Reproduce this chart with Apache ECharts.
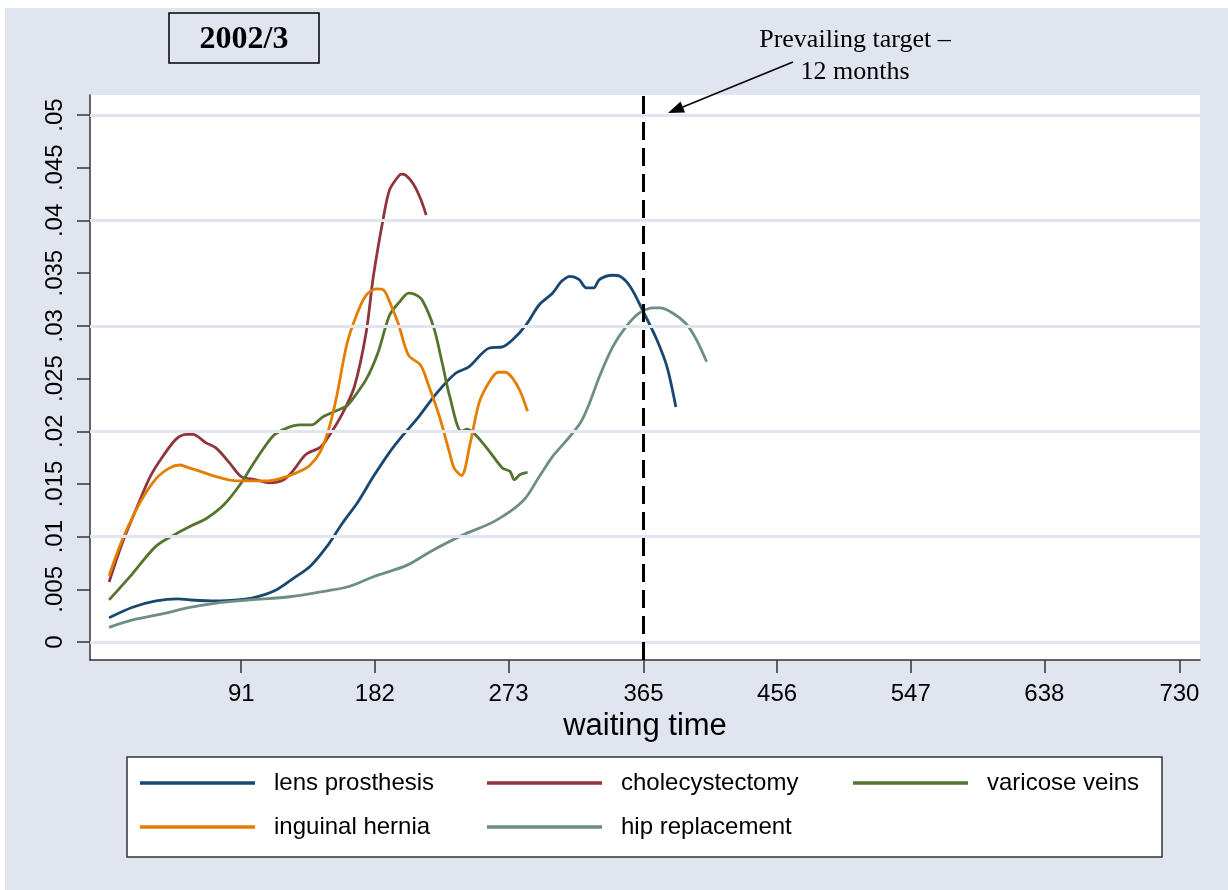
<!DOCTYPE html>
<html>
<head>
<meta charset="utf-8">
<script src="https://cdn.jsdelivr.net/npm/echarts@6/dist/echarts.min.js"></script>
<style>
  html, body { margin: 0; padding: 0; background: #fff; }
  #panel { position: absolute; left: 5px; top: 8px; width: 1223px; height: 882px; background: #e0e5ef; }
  #chart { position: absolute; left: 0; top: 0; width: 1228px; height: 890px; }
</style>
</head>
<body>
<div id="panel"></div>
<div id="chart"></div>
<script>
// tick positions
const xTicks = [91, 182, 273, 365, 456, 547, 638, 730];
const yTicks = [0, 0.005, 0.01, 0.015, 0.02, 0.025, 0.03, 0.035, 0.04, 0.045, 0.05];
const targetDay = 365;

// series (waiting time in days, density)
const lensDays = [1, 17, 33, 48, 56, 74, 88, 99, 114, 126, 138, 149, 160, 170, 181, 192, 201, 212, 224, 237, 246, 260, 269, 276, 285, 294, 303, 309, 315, 321, 326, 331, 335, 344, 349, 356, 365, 374, 381, 387];
const lensVals = [.0023, .0033, .0039, .0041, .0040, .0039, .0040, .0042, .0049, .0060, .0072, .0090, .0113, .0132, .0157, .0180, .0196, .0214, .0236, .0255, .0261, .0279, .0280, .0287, .0301, .0320, .0331, .0342, .0347, .0344, .0336, .0336, .0344, .0348, .0347, .0337, .0313, .0287, .0261, .0223];

const cholDays = [1, 10, 20, 29, 38, 47, 54, 58, 67, 74, 83, 91, 101, 110, 120, 126, 135, 145, 151, 160, 168, 176, 181, 188, 192, 197, 200, 203, 208, 213, 217];
const cholVals = [.0057, .0094, .0128, .0157, .0177, .0193, .0197, .0197, .0189, .0184, .0170, .0157, .0154, .0151, .0154, .0162, .0178, .0185, .0196, .0217, .0242, .0293, .0347, .0404, .0429, .0440, .0444, .0443, .0435, .0421, .0405];

const variDays = [1, 17, 33, 47, 58, 67, 79, 90, 101, 113, 122, 131, 139, 147, 163, 165, 176, 184, 192, 199, 205, 209, 214, 222, 228, 233, 241, 245, 251, 260, 269, 274, 277, 281, 286];
const variVals = [.0040, .0065, .0091, .0103, .0111, .0117, .0130, .0149, .0173, .0196, .0203, .0206, .0206, .0214, .0224, .0227, .0249, .0274, .0310, .0323, .0331, .0330, .0325, .0299, .0264, .0233, .0200, .0202, .0196, .0181, .0165, .0162, .0154, .0159, .0161];

const hernDays = [1, 10, 22, 33, 42, 49, 54, 63, 74, 88, 101, 110, 122, 131, 138, 145, 151, 156, 163, 170, 176, 183, 188, 192, 198, 205, 213, 219, 226, 233, 236, 241, 247, 253, 260, 266, 271, 276, 281, 286];
const hernVals = [.0063, .0097, .0132, .0155, .0165, .0168, .0166, .0162, .0157, .0153, .0153, .0153, .0157, .0162, .0168, .0181, .0204, .0233, .0283, .0312, .0329, .0335, .0334, .0323, .0302, .0272, .0263, .0242, .0214, .0179, .0165, .0158, .0189, .0227, .0247, .0256, .0256, .0250, .0238, .0219];

const hipDays = [1, 17, 38, 56, 74, 97, 124, 151, 165, 181, 204, 220, 241, 264, 283, 294, 303, 313, 322, 328, 335, 344, 353, 362, 372, 376, 385, 394, 401, 408];
const hipVals = [.0014, .0021, .0027, .0033, .0037, .0040, .0043, .0049, .0053, .0062, .0073, .0086, .0101, .0115, .0134, .0157, .0176, .0192, .0208, .0226, .0252, .0280, .0299, .0312, .0317, .0317, .0312, .0302, .0287, .0266];

const seriesNames = ["lens prosthesis", "cholecystectomy", "varicose veins", "inguinal hernia", "hip replacement"];
const seriesColors = ["#1a476f", "#90353b", "#55752f", "#e37e00", "#6e8e84"];
const seriesDays = [lensDays, cholDays, variDays, hernDays, hipDays];
const seriesVals = [lensVals, cholVals, variVals, hernVals, hipVals];

const SANS = '"Liberation Sans", Arial, sans-serif';
const SERIF = '"Liberation Serif", "Times New Roman", serif';

const zip = (xs, ys) => xs.map((x, i) => [x, ys[i]]);
const yLabel = (v) => (v === 0 ? "0" : String(+v.toFixed(3)).replace(/^0/, ""));

// legend layout: line start x per column, centre y per row
const legendCols = [140, 487, 853];
const legendRows = [783, 827];
const legendSlots = [[0, 0], [1, 0], [2, 0], [0, 1], [1, 1]];

// arrow annotation
const arrowTail = [793, 62];
const arrowTip = [668, 113];
const dx = arrowTip[0] - arrowTail[0], dy = arrowTip[1] - arrowTail[1];
const len = Math.hypot(dx, dy);
const ux = dx / len, uy = dy / len;
const headL = 16, headW = 6;
const bx = arrowTip[0] - ux * headL, by = arrowTip[1] - uy * headL;

const chart = echarts.init(document.getElementById("chart"));

chart.setOption({
  animation: false,
  backgroundColor: "transparent",
  textStyle: { fontFamily: SANS },
  grid: { left: 90, right: 28, top: 95, bottom: 230, show: true, backgroundColor: "#fff", borderWidth: 0 },
  xAxis: {
    type: "value",
    min: -12,
    max: 744,
    name: "waiting time",
    nameLocation: "middle",
    nameGap: 41,
    nameTextStyle: { fontSize: 31, color: "#000", fontFamily: SANS },
    axisLine: { show: true, onZero: false, lineStyle: { color: "#333", width: 1.5 } },
    axisTick: { show: true, length: 13, customValues: xTicks, lineStyle: { color: "#333", width: 1.5 } },
    axisLabel: { customValues: xTicks, fontSize: 24, color: "#000", margin: 22, fontFamily: SANS },
    splitLine: { show: false },
  },
  yAxis: {
    type: "value",
    min: -0.0017,
    max: 0.0519,
    axisLine: { show: true, onZero: false, lineStyle: { color: "#333", width: 1.5 } },
    axisTick: { show: true, length: 13, customValues: yTicks, lineStyle: { color: "#333", width: 1.5 } },
    axisLabel: { customValues: yTicks, rotate: 90, fontSize: 24, color: "#000", margin: 23, fontFamily: SANS, formatter: yLabel },
    splitLine: { show: false },
  },
  legend: legendSlots.map(([c, r], i) => ({
    data: [seriesNames[i]],
    left: legendCols[c],
    top: legendRows[r] - 12,
    padding: 0,
    icon: "rect",
    itemWidth: 115,
    itemHeight: 3.5,
    selectedMode: false,
    textStyle: { fontSize: 24, color: "#000", fontFamily: SANS, padding: [0, 0, 0, 14] },
  })),
  graphic: [
    { type: "rect", shape: { x: 127, y: 757, width: 1035, height: 100 }, style: { fill: "#fff", stroke: "#333", lineWidth: 1.5 }, z: 0 },
    { type: "rect", shape: { x: 169, y: 13, width: 150, height: 50 }, style: { fill: "none", stroke: "#000", lineWidth: 1.5 } },
    { type: "text", x: 244, y: 40, style: { text: "2002/3", font: "bold 32px " + SERIF, fill: "#000", align: "center", verticalAlign: "middle", textAlign: "center", textVerticalAlign: "middle" } },
    { type: "text", x: 855, y: 40, style: { text: "Prevailing target \u2013", font: "26px " + SERIF, fill: "#000", align: "center", verticalAlign: "middle", textAlign: "center", textVerticalAlign: "middle" } },
    { type: "text", x: 855, y: 72, style: { text: "12 months", font: "26px " + SERIF, fill: "#000", align: "center", verticalAlign: "middle", textAlign: "center", textVerticalAlign: "middle" } },
    { type: "line", shape: { x1: arrowTail[0], y1: arrowTail[1], x2: bx, y2: by }, style: { stroke: "#000", lineWidth: 1.5 } },
    {
      type: "polygon",
      shape: { points: [arrowTip, [bx + uy * headW, by - ux * headW], [bx - uy * headW, by + ux * headW]] },
      style: { fill: "#000" },
    },
  ],
  series: [
    {
      name: "_grid",
      type: "line",
      data: [[-12, 0]],
      symbol: "none",
      lineStyle: { opacity: 0 },
      silent: true,
      z: 1,
      markLine: {
        silent: true,
        symbol: ["none", "none"],
        label: { show: false },
        lineStyle: { color: "#e0e5ef", width: 3, type: "solid" },
        data: yTicks.map((v) => ({ yAxis: v })),
      },
    },
    ...seriesNames.map((name, i) => ({
      name,
      type: "line",
      data: zip(seriesDays[i], seriesVals[i]),
      symbol: "none",
      showSymbol: false,
      smooth: 0.3,
      color: seriesColors[i],
      lineStyle: { width: 2.8, color: seriesColors[i] },
      z: 2,
    })),
    {
      name: "_target",
      type: "line",
      data: [[targetDay, 0]],
      symbol: "none",
      lineStyle: { opacity: 0 },
      silent: true,
      z: 3,
      markLine: {
        silent: true,
        symbol: ["none", "none"],
        label: { show: false },
        lineStyle: { color: "#000", width: 3, type: [18, 8] },
        data: [{ xAxis: targetDay }],
      },
    },
  ],
});
</script>
</body>
</html>
